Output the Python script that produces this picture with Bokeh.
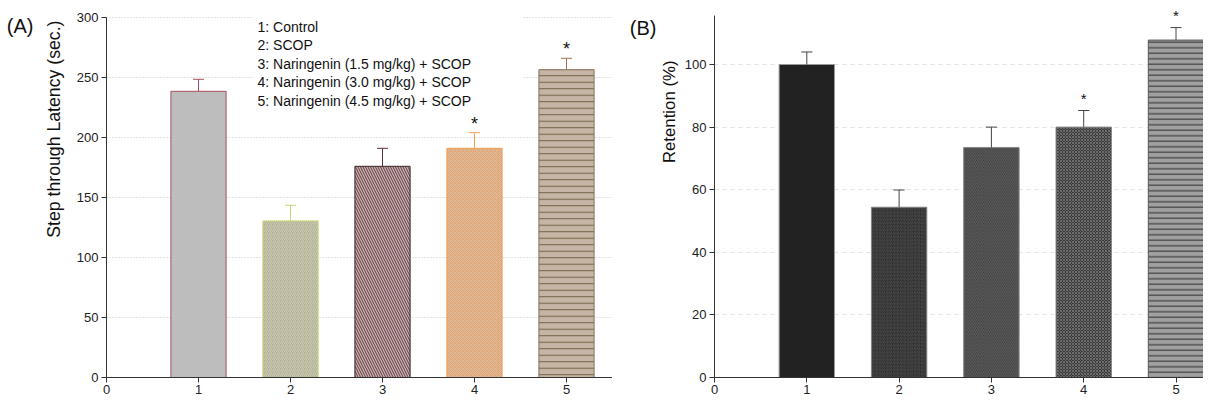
from bokeh.plotting import figure
from bokeh.models import (Range1d, Label, LabelSet, BoxAnnotation, ColumnDataSource,
                          Title, LinearAxis, FixedTicker)
from bokeh.layouts import row
from bokeh.embed import file_html
from bokeh.resources import INLINE
from bokeh.core.properties import value

# ---------------- data ----------------
groups = [1, 2, 3, 4, 5]
x_ticks = [0, 1, 2, 3, 4, 5]
legend_labels = [
    "1: Control",
    "2: SCOP",
    "3: Naringenin (1.5 mg/kg) + SCOP",
    "4: Naringenin (3.0 mg/kg) + SCOP",
    "5: Naringenin (4.5 mg/kg) + SCOP",
]
latency_mean = [238.5, 130.5, 176.0, 191.0, 256.5]
latency_sem = [10.0, 13.0, 15.0, 13.0, 9.5]
latency_sig = ["", "", "", "*", "*"]
latency_ticks = [0, 50, 100, 150, 200, 250, 300]

retention_mean = [100.0, 54.4, 73.5, 80.0, 107.8]
retention_sem = [4.0, 5.5, 6.5, 5.3, 4.0]
retention_sig = ["", "", "", "*", "*"]
retention_ticks = [0, 20, 40, 60, 80, 100]

# ---------------- styles ----------------
FONT = "Liberation Sans"
H = 399
TOP = 8
BOTTOM = 22
BAR_W = 0.6
CAP_HALF = 0.06

A_fill = ["#bdbdbd", "#b5b399", "#c9aeac", "#d9b99d", "#c6b5a5"]
A_line = ["#a8505e", "#c8d870", "#3a2528", "#f0a050", "#8a7060"]
A_err = ["#a8505e", "#c8d870", "#5a3040", "#f0a050", "#a07050"]
A_hatch = [" ", "/", "\\", "x", "-"]
A_hcol = ["#bdbdbd", "#cac9b0", "#5e3e46", "#eba262", "#6e6444"]
A_hscale = [4, 4, 5, 4, 6.5]

B_fill = ["#222222", "#262626", "#383838", "#3a3a3a", "#a0a0a0"]
B_line = ["#999999", "#888888", "#888888", "#888888", "#555555"]
B_hatch = [" ", "/", "\\", "x", "-"]
B_hcol = ["#222222", "#4c4c4c", "#606060", "#6c6c6c", "#2a2a2a"]
B_hscale = [4, 3.5, 3.5, 3, 5.5]
B_err = "#444444"


def style_axes(p, yticks, ybounds, gridcol, griddash):
    p.outline_line_color = None
    p.xgrid.visible = False
    p.ygrid.grid_line_color = gridcol
    p.ygrid.grid_line_dash = griddash
    p.ygrid.ticker = yticks[1:]
    p.xaxis.ticker = x_ticks
    p.yaxis.ticker = yticks
    p.yaxis.bounds = ybounds
    for ax in (p.xaxis, p.yaxis):
        ax.axis_line_color = "#333333"
        ax.major_tick_line_color = "#333333"
        ax.major_tick_out = 5
        ax.major_tick_in = 0
        ax.minor_tick_line_color = None
        ax.major_label_text_font = FONT
        ax.major_label_text_font_size = "13px"
        ax.major_label_text_color = "#222222"
    p.xaxis.major_label_standoff = 2
    p.yaxis.major_label_standoff = 3


def add_side_texts(p, ylabel, ylabel_size, ylabel_offset, ylabel_standoff, tag, tag_y):
    p.add_layout(Title(text=ylabel, align="right", offset=ylabel_offset,
                       vertical_align="middle", standoff=ylabel_standoff,
                       text_font=FONT, text_font_size=ylabel_size,
                       text_font_style="normal", text_color="#111111"), "left")
    tag_axis = LinearAxis(ticker=FixedTicker(ticks=[tag_y]),
                          major_label_overrides={tag_y: tag},
                          axis_line_color=None, major_tick_line_color=None,
                          minor_tick_line_color=None, major_tick_out=0,
                          major_label_standoff=0, major_label_text_font=FONT,
                          major_label_text_font_size="20px",
                          major_label_text_color="#111111")
    p.add_layout(tag_axis, "left")


def draw_bars(p, means, sems, sig, fills, lines, hatches, hcols, hscales, errcols,
              star_size, star_off):
    tops = [m + s for m, s in zip(means, sems)]
    src = ColumnDataSource(dict(
        x=groups, top=means, up=tops,
        x0=[g - CAP_HALF for g in groups], x1=[g + CAP_HALF for g in groups],
        fill=fills, line=lines, hatch=hatches, hcol=hcols, hscale=hscales,
        err=errcols if isinstance(errcols, list) else [errcols] * len(groups),
        sig=sig,
    ))
    p.vbar(x="x", top="top", bottom=0, width=BAR_W, source=src,
           fill_color="fill", line_color="line", line_width=1,
           hatch_pattern="hatch", hatch_color="hcol", hatch_scale="hscale",
           hatch_weight=1)
    p.segment(x0="x", y0="top", x1="x", y1="up", source=src, line_color="err", line_width=1)
    p.segment(x0="x0", y0="up", x1="x1", y1="up", source=src, line_color="err", line_width=1)
    p.add_layout(LabelSet(x="x", y="up", text="sig", source=src, text_align="center",
                          text_baseline="middle", y_offset=star_off,
                          text_font=value(FONT), text_font_size=value(star_size),
                          text_color="#111111"))


# ---------------- panel A ----------------
A_left = 106
A_w = 612
A_xend = 5.5
A_scale = 1.2                      # px per unit
A_ytop = (H - TOP - BOTTOM) / A_scale
pA = figure(width=A_w, height=H, x_range=Range1d(0, A_xend), y_range=Range1d(0, A_ytop),
            output_backend="svg", toolbar_location=None,
            min_border_left=A_left, min_border_right=0,
            min_border_top=TOP, min_border_bottom=BOTTOM)
style_axes(pA, latency_ticks, (0, 300), "#c4c4c4", "1 2")
pxA = (A_w - A_left) / A_xend


def ax_A(px):   # canvas px -> data x
    return (px - A_left) / pxA


def ay_A(py):   # canvas px -> data y
    return A_ytop - (py - TOP) / A_scale


pA.add_layout(BoxAnnotation(left=ax_A(253), right=ax_A(522), bottom=ay_A(112), top=ay_A(0),
                            fill_color="white", fill_alpha=1.0, line_color=None,
                            level="underlay"))
draw_bars(pA, latency_mean, latency_sem, latency_sig, A_fill, A_line, A_hatch, A_hcol,
          A_hscale, A_err, "18px", 9)
pA.add_layout(Label(x=ax_A(257), y=ay_A(18), text="\n".join(legend_labels),
                    text_align="left", text_baseline="top", text_line_height=1.16,
                    text_font=FONT, text_font_size="14px", text_color="#111111"))
add_side_texts(pA, "Step through Latency (sec.)", "17.7px", 12, 18, "(A)", round(ay_A(25)))

# ---------------- panel B ----------------
B_left = 102
B_w = 1203 - A_w
B_scale = 3.13                     # px per unit
B_ytop = (H - TOP - BOTTOM) / B_scale
B_px_per_unit = 92.3
pB = figure(width=B_w, height=H, x_range=Range1d(0, (B_w - B_left) / B_px_per_unit),
            y_range=Range1d(0, B_ytop),
            output_backend="svg", toolbar_location=None,
            min_border_left=B_left, min_border_right=0,
            min_border_top=TOP, min_border_bottom=BOTTOM)
style_axes(pB, retention_ticks, (0, 115.5), "#e2e2e2", "4 4")


def ay_B(py):
    return B_ytop - (py - TOP) / B_scale


draw_bars(pB, retention_mean, retention_sem, retention_sig, B_fill, B_line, B_hatch, B_hcol,
          B_hscale, B_err, "15px", 12)
add_side_texts(pB, "Retention (%)", "16.8px", 52, 4, "(B)", round(ay_B(27), 1))

layout = row(pA, pB)
open("out.html", "w").write(file_html(layout, INLINE))
